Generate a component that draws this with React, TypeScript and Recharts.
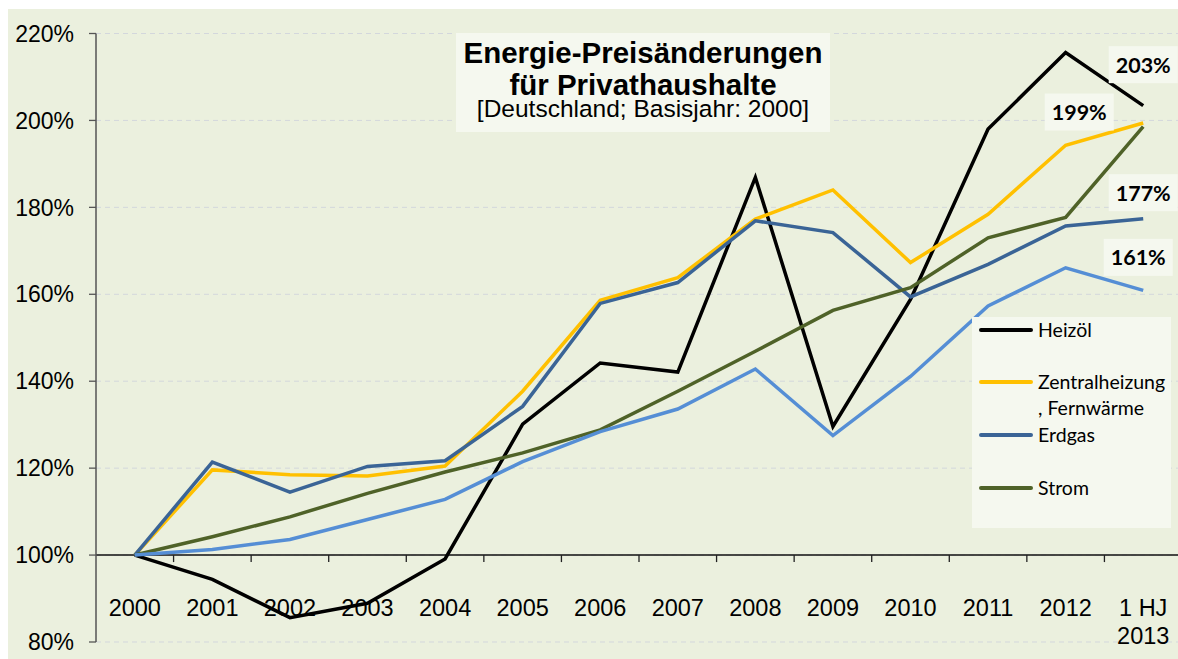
import React from 'react';
import {
  LineChart,
  Line,
  XAxis,
  YAxis,
  CartesianGrid,
  ReferenceLine,
  Legend,
  LabelList,
} from 'recharts';

const categories = [
  '2000', '2001', '2002', '2003', '2004', '2005', '2006',
  '2007', '2008', '2009', '2010', '2011', '2012', '1 HJ\n2013',
];
const heizoel = [100, 94.4, 85.6, 88.9, 99.1, 130.1, 144.2, 142.1, 186.9, 129.6, 158.8, 198.0, 215.6, 203.4];
const zentralheizung = [100, 119.6, 118.5, 118.2, 120.5, 137.7, 158.6, 163.8, 177.3, 184.0, 167.3, 178.4, 194.3, 199.4];
const erdgas = [100, 121.4, 114.5, 120.4, 121.7, 134.2, 157.9, 162.7, 176.9, 174.2, 159.4, 166.9, 175.7, 177.4];
const strom = [100, 104.2, 108.8, 114.2, 119.1, 123.5, 128.8, 137.7, 146.9, 156.3, 161.5, 173.0, 177.7, 198.6];
const kraftstoffe = [100, 101.3, 103.6, 108.2, 112.8, 121.5, 128.4, 133.6, 142.8, 127.5, 141.1, 157.3, 166.1, 160.9];
const yTicks = [80, 100, 120, 140, 160, 180, 200, 220];

const data = categories.map((c, i) => ({
  year: c,
  heizoel: heizoel[i],
  zentral: zentralheizung[i],
  erdgas: erdgas[i],
  strom: strom[i],
  kraft: kraftstoffe[i],
}));

const CHART_W = 1174;
const CHART_H = 650;
const TOP = 24.5;
const Y_W = 88;
const X_H = 17;
const PLOT_W = CHART_W - Y_W;
const PLOT_H = CHART_H - TOP - X_H;
const HALF = PLOT_W / categories.length / 2;
const AXIS_UP = (PLOT_H * (100 - 80)) / (220 - 80);

const BG = '#ebf0de';
const BOX = '#f5f8ef';
const FONT = '"Liberation Sans", Arial, sans-serif';

const XTick = (props: any) => {
  const { x, y, payload } = props;
  const lines = String(payload.value).split('\n');
  const axisY = y - AXIS_UP;
  return (
    <g>
      <line x1={x + HALF} x2={x + HALF} y1={axisY} y2={axisY + 7} stroke="#222" strokeWidth={1.3} />
      <text x={x} y={y - 26.5} textAnchor="middle" fontFamily={FONT} fontSize={23.5} fill="#000">
        {lines.map((l, i) => (
          <tspan key={i} x={x} dy={i === 0 ? 0 : 28}>
            {l}
          </tspan>
        ))}
      </text>
    </g>
  );
};

const makeLabel = (dx: number, dy: number) => (props: any) => {
  const { x, y, value, index } = props;
  if (index !== categories.length - 1) return null;
  const cx = x + dx;
  const cy = y + dy;
  return (
    <g>
      <rect x={cx - 34.5} y={cy - 18.5} width={69} height={37} fill={BOX} />
      <text x={cx} y={cy + 8} textAnchor="middle" fontFamily="Lato, sans-serif" fontWeight={700} fontSize={21.5} fill="#000">
        {Math.round(value) + '%'}
      </text>
    </g>
  );
};

const legendItems = [
  { color: '#000000', lines: ['Heizöl'], y: 13 },
  { color: '#ffc000', lines: ['Zentralheizung', ', Fernwärme'], y: 65 },
  { color: '#3a6496', lines: ['Erdgas'], y: 118 },
  { color: '#4f6228', lines: ['Strom'], y: 171 },
];

const LegendBox = () => (
  <div style={{ position: 'relative', width: 199, height: 211, background: BOX }}>
    {legendItems.map((it, i) => (
      <React.Fragment key={i}>
        <div
          style={{
            position: 'absolute',
            left: 7,
            top: it.y - 2,
            width: 54,
            height: 4,
            borderRadius: 2,
            background: it.color,
          }}
        />
        {it.lines.map((l, j) => (
          <div
            key={j}
            style={{
              position: 'absolute',
              left: 66,
              top: it.y - 12 + j * 26,
              fontFamily: 'Lato, sans-serif',
              fontSize: 19.5,
              lineHeight: '24px',
              color: '#000',
              whiteSpace: 'nowrap',
            }}
          >
            {l}
          </div>
        ))}
      </React.Fragment>
    ))}
  </div>
);

export default function App() {
  return (
    <div style={{ position: 'relative', width: 1178, height: 659, overflow: 'hidden', background: '#fff' }}>
      <style>{'html,body{margin:0;padding:0;overflow:hidden;}'}</style>
      <div
        style={{
          position: 'absolute',
          left: 8,
          top: 9,
          width: 1170,
          height: CHART_H,
          overflow: 'hidden',
          background: BG,
        }}
      >
        <LineChart
          width={CHART_W}
          height={CHART_H}
          data={data}
          margin={{ top: TOP, right: 0, bottom: 0, left: 0 }}
        >
          <CartesianGrid horizontal vertical={false} stroke="#d3d7dc" strokeDasharray="5 4" />
          <XAxis
            dataKey="year"
            scale="band"
            height={X_H}
            interval={0}
            axisLine={false}
            tickLine={false}
            tickSize={0}
            tickMargin={0}
            tick={<XTick />}
          />
          <YAxis
            width={Y_W}
            domain={[80, 220]}
            ticks={yTicks}
            interval={0}
            tickFormatter={(v: number) => v + '%'}
            tickSize={7}
            tickMargin={15}
            axisLine={{ stroke: '#555', strokeWidth: 1.5 }}
            tickLine={{ stroke: '#555', strokeWidth: 1.3 }}
            tick={{ fontFamily: FONT, fontSize: 23, fill: '#000' }}
          />
          <ReferenceLine y={100} stroke="#111" strokeWidth={1.5} />
          <Line dataKey="heizoel" name="Heizöl" stroke="#000000" strokeWidth={3.5} dot={false} isAnimationActive={false}>
            <LabelList dataKey="heizoel" content={makeLabel(0, -41)} />
          </Line>
          <Line dataKey="zentral" name="Zentralheizung, Fernwärme" stroke="#ffc000" strokeWidth={3.5} dot={false} isAnimationActive={false}>
            <LabelList dataKey="zentral" content={makeLabel(-64, -11)} />
          </Line>
          <Line dataKey="erdgas" name="Erdgas" stroke="#3a6496" strokeWidth={3.5} dot={false} isAnimationActive={false}>
            <LabelList dataKey="erdgas" content={makeLabel(0, -26)} />
          </Line>
          <Line dataKey="strom" name="Strom" stroke="#4f6228" strokeWidth={3.5} dot={false} isAnimationActive={false} />
          <Line dataKey="kraft" name="Kraftstoffe" stroke="#558ed5" strokeWidth={3.5} dot={false} isAnimationActive={false}>
            <LabelList dataKey="kraft" content={makeLabel(-5, -33)} />
          </Line>
          <Legend
            layout="vertical"
            align="center"
            verticalAlign="middle"
            content={<LegendBox />}
            wrapperStyle={{ position: 'absolute', left: 964, top: 308, width: 199, height: 211 }}
          />
        </LineChart>
        <div
          style={{
            position: 'absolute',
            left: 448,
            top: 24,
            width: 374,
            height: 99,
            background: BOX,
            textAlign: 'center',
            fontFamily: FONT,
            color: '#000',
            paddingTop: 3,
            boxSizing: 'border-box',
          }}
        >
          <div style={{ fontSize: 29.5, fontWeight: 700, lineHeight: '33px', whiteSpace: 'nowrap' }}>Energie-Preisänderungen</div>
          <div style={{ fontSize: 29.5, fontWeight: 700, lineHeight: '32px', whiteSpace: 'nowrap' }}>für Privathaushalte</div>
          <div style={{ fontSize: 24.5, lineHeight: '16px', whiteSpace: 'nowrap' }}>[Deutschland; Basisjahr: 2000]</div>
        </div>
      </div>
    </div>
  );
}
